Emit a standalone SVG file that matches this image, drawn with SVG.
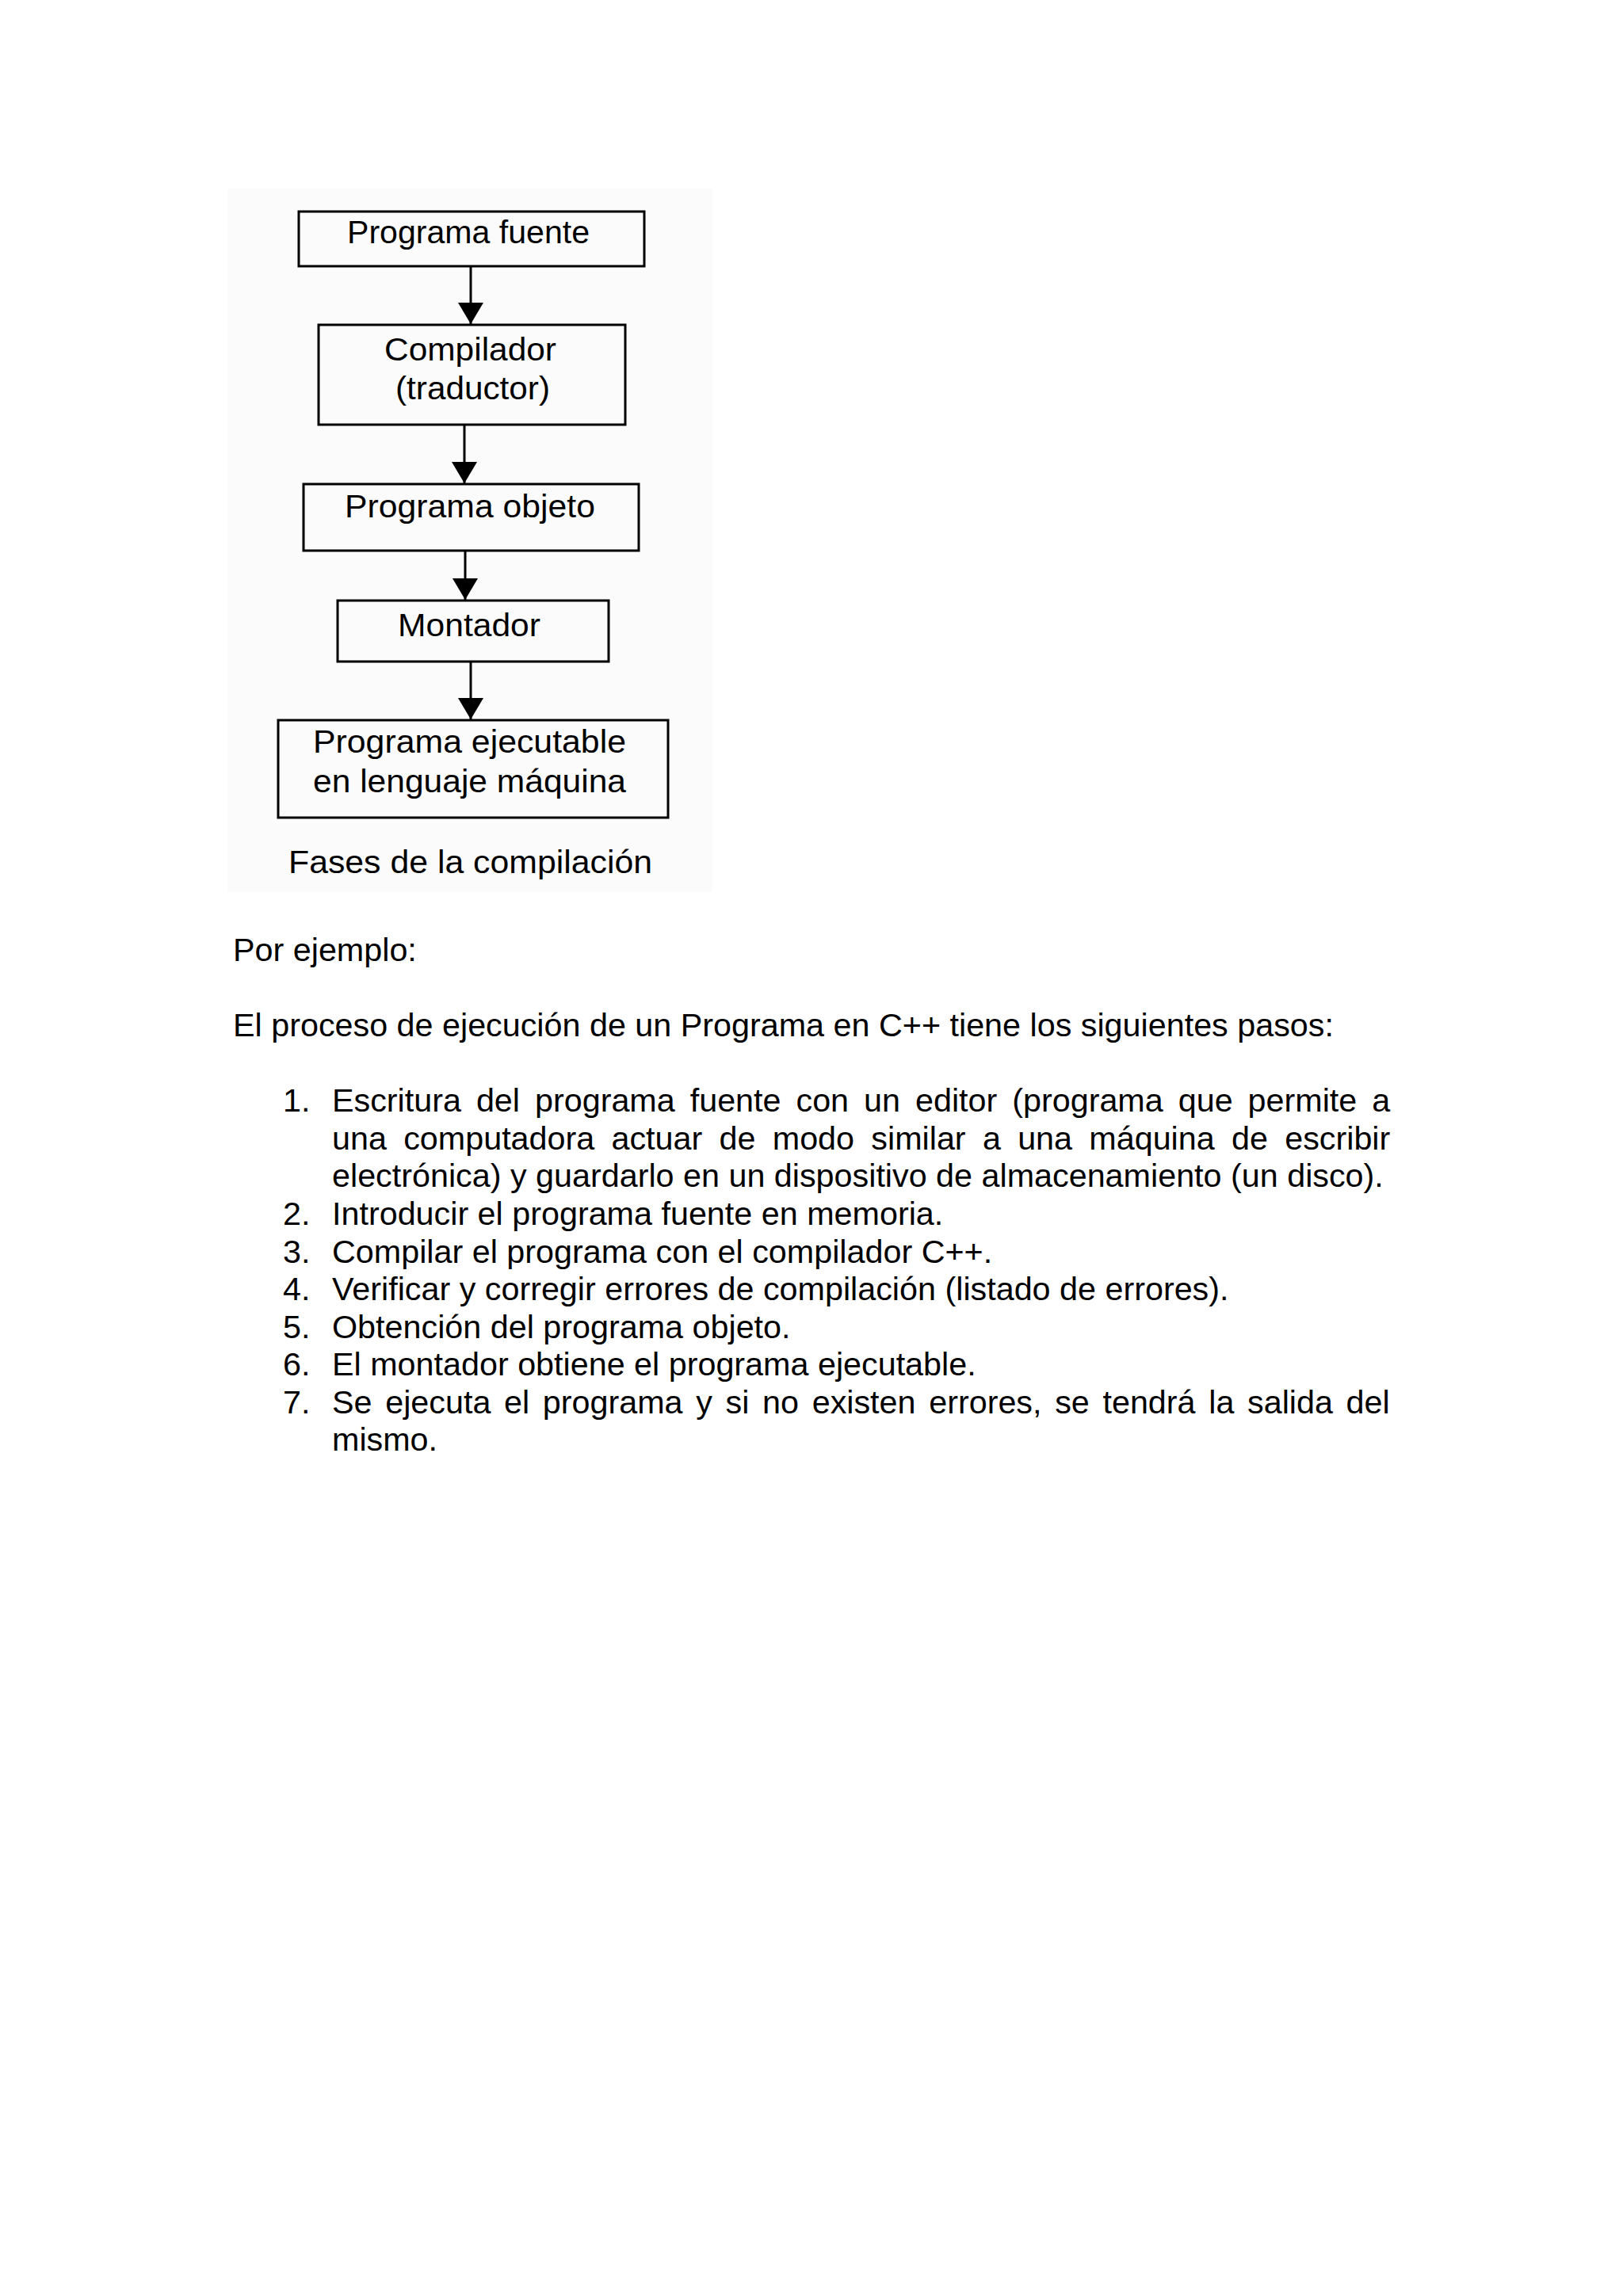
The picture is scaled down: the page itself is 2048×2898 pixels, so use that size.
<svg xmlns="http://www.w3.org/2000/svg" width="2048" height="2898" viewBox="0 0 2048 2898">
<style>
.box{fill:none;stroke:#000;stroke-width:3}
.lbl{font-family:"Liberation Sans",Arial,sans-serif;font-size:41px;fill:#000}
.body{font-family:"Liberation Sans",Arial,sans-serif;font-size:41.3px;fill:#000}
.conn{stroke:#000;stroke-width:3;fill:none}
</style>
<defs>
<marker id="ah" viewBox="0 0 27 32" markerWidth="27" markerHeight="32" refX="27" refY="16" orient="auto" markerUnits="userSpaceOnUse">
<path d="M0,0 L27,16 L0,32 z" fill="#000"/>
</marker>
</defs>
<rect x="0" y="0" width="2048" height="2898" fill="#fff"/>
<rect x="287" y="238" width="612" height="888" fill="#fbfbfb"/>

<g id="connectors">
<line class="conn" x1="594" y1="336" x2="594" y2="409" marker-end="url(#ah)"/>
<line class="conn" x1="586" y1="536" x2="586" y2="610" marker-end="url(#ah)"/>
<line class="conn" x1="587" y1="695" x2="587" y2="757" marker-end="url(#ah)"/>
<line class="conn" x1="594" y1="835" x2="594" y2="908" marker-end="url(#ah)"/>
</g>

<g id="node-programa-fuente">
<rect class="box" x="377" y="267" width="436" height="69"/>
<text class="lbl" x="438" y="307" textLength="306" lengthAdjust="spacingAndGlyphs">Programa fuente</text>
</g>
<g id="node-compilador">
<rect class="box" x="402" y="410" width="387" height="126"/>
<text class="lbl" x="485" y="455" textLength="217" lengthAdjust="spacingAndGlyphs">Compilador</text>
<text class="lbl" x="499" y="504" textLength="195" lengthAdjust="spacingAndGlyphs">(traductor)</text>
</g>
<g id="node-programa-objeto">
<rect class="box" x="383" y="611" width="423" height="84"/>
<text class="lbl" x="435" y="653" textLength="316" lengthAdjust="spacingAndGlyphs">Programa objeto</text>
</g>
<g id="node-montador">
<rect class="box" x="426" y="758" width="342" height="77"/>
<text class="lbl" x="502" y="803" textLength="180" lengthAdjust="spacingAndGlyphs">Montador</text>
</g>
<g id="node-programa-ejecutable">
<rect class="box" x="351" y="909" width="492" height="123"/>
<text class="lbl" x="395" y="950" textLength="395" lengthAdjust="spacingAndGlyphs">Programa ejecutable</text>
<text class="lbl" x="395" y="1000" textLength="395" lengthAdjust="spacingAndGlyphs">en lenguaje máquina</text>
</g>
<g id="caption">
<text class="lbl" x="364" y="1102" textLength="459" lengthAdjust="spacingAndGlyphs">Fases de la compilación</text>
</g>

<g id="body-text">
<text class="body" x="294" y="1213">Por ejemplo:</text>
<text class="body" x="294" y="1308">El proceso de ejecución de un Programa en C++ tiene los siguientes pasos:</text>
<text class="body" x="357" y="1403">1.</text>
<text class="body" x="419" y="1403" word-spacing="7.5">Escritura del programa fuente con un editor (programa que permite a</text>
<text class="body" x="419" y="1451" word-spacing="9.8">una computadora actuar de modo similar a una máquina de escribir</text>
<text class="body" x="419" y="1498">electrónica) y guardarlo en un dispositivo de almacenamiento (un disco).</text>
<text class="body" x="357" y="1546">2.</text>
<text class="body" x="419" y="1546">Introducir el programa fuente en memoria.</text>
<text class="body" x="357" y="1594">3.</text>
<text class="body" x="419" y="1594">Compilar el programa con el compilador C++.</text>
<text class="body" x="357" y="1641">4.</text>
<text class="body" x="419" y="1641">Verificar y corregir errores de compilación (listado de errores).</text>
<text class="body" x="357" y="1689">5.</text>
<text class="body" x="419" y="1689">Obtención del programa objeto.</text>
<text class="body" x="357" y="1736">6.</text>
<text class="body" x="419" y="1736">El montador obtiene el programa ejecutable.</text>
<text class="body" x="357" y="1784">7.</text>
<text class="body" x="419" y="1784" word-spacing="5.2">Se ejecuta el programa y si no existen errores, se tendrá la salida del</text>
<text class="body" x="419" y="1831">mismo.</text>
</g>
</svg>
